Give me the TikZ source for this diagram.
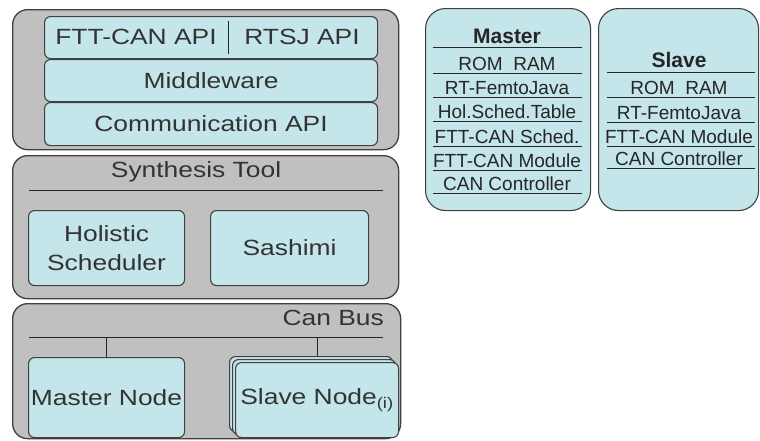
\documentclass[tikz,border=0pt]{standalone}
\usepackage{fontspec}
\setmainfont{Liberation Sans}[FakeStretch=1.2]
\newfontfamily\tablefont{Liberation Sans}
\usetikzlibrary{positioning}
\definecolor{panelgray}{RGB}{192,192,192}
\definecolor{layercyan}{RGB}{196,229,233}
\newcommand\layerfont{\fontsize{22}{29}\selectfont}
\newcommand\rowfont{\tablefont\fontsize{19}{20}\selectfont}
\tikzset{
  panel/.style={draw=black!75,line width=1.3pt,fill=panelgray,rounded corners=15pt,anchor=north west,inner sep=0pt},
  layer/.style={draw=black!75,line width=1.1pt,fill=layercyan,rounded corners=6pt,anchor=north west,inner sep=0pt,font=\layerfont,text=black!80,align=center},
  card/.style={draw=black!75,line width=1.1pt,fill=layercyan,rounded corners=20pt,anchor=north west,inner sep=0pt},
  label/.style={font=\layerfont,text=black!80,inner sep=0pt},
  rowtext/.style={anchor=base,inner sep=0pt,font=\rowfont,text=black!85},
  rule/.style={black!85,line width=1pt}
}
\begin{document}
\begin{tikzpicture}[x=1pt,y=-1pt]
\useasboundingbox (0,0) rectangle (760,440);

% application stack
\node[panel,minimum width=386pt,minimum height=140pt] (apipanel) at (12,9) {};
\node[layer,minimum width=333pt,minimum height=42pt] (apis) at (44,16) {};
\node[label] (fttapi) at (136,37) {FTT-CAN API};
\node[label] (rtsjapi) at (302,37) {RTSJ API};
\draw[rule] (228,21) -- (228,54);
\node[layer,minimum width=333pt,minimum height=42pt] (middleware) at (44,59) {Middleware};
\node[layer,minimum width=333pt,minimum height=43pt] (commapi) at (44,102) {Communication API};

% synthesis tool
\node[panel,minimum width=386pt,minimum height=143pt] (synthpanel) at (12,155) {};
\node[label] (synthlabel) at (196,172) {Synthesis Tool};
\draw[rule] (29,190) -- (383,190);
\node[layer,minimum width=156pt,minimum height=75pt] (holistic) at (28,210) {Holistic\\Scheduler};
\node[layer,minimum width=158pt,minimum height=75pt] (sashimi) at (210,210) {Sashimi};

% can bus
\node[panel,minimum width=388pt,minimum height=135pt] (buspanel) at (12,303) {};
\node[label,anchor=east] (buslabel) at (384,318) {Can Bus};
\coordinate (busleft) at (29,337);
\coordinate (busright) at (383,337);
\draw[rule] (busleft) -- (busright);
\node[layer,minimum width=156pt,minimum height=80pt] (masternode) at (28,357) {Master Node};
\node[layer,minimum width=163pt,minimum height=75pt] (slaveback) at (229,356) {};
\node[layer,minimum width=163pt,minimum height=75pt] (slavemid) at (232,359) {};
\node[layer,minimum width=163pt,minimum height=75pt] (slavenode) at (235,362) {Slave Node\textsubscript{(i)}};
\draw[rule] (masternode.north |- busleft) -- (masternode.north);
\draw[rule] (slavenode.north |- busleft) -- (slavenode.north |- slaveback.north);

% node contents
\node[card,minimum width=165pt,minimum height=202pt] (mastercard) at (425,8) {};
\node[rowtext,font=\rowfont\fontsize{21}{22}\selectfont\bfseries] (mastertitle) at (507,43) {Master};
\draw[rule] (433,47) -- (582,47);
\foreach \y/\txt [count=\i] in {73/ROM\ \ RAM,97/RT-FemtoJava,121/Hol.Sched.Table,146/FTT-CAN Sched.,170/FTT-CAN Module,193/CAN Controller}{
  \node[rowtext] (mrow\i) at (507,\y-3) {\txt};
  \draw[rule] (433,\y) -- (582,\y);
}
\node[card,minimum width=160pt,minimum height=202pt] (slavecard) at (598,8) {};
\node[rowtext,font=\rowfont\fontsize{21}{22}\selectfont\bfseries] (slavetitle) at (679,67) {Slave};
\draw[rule] (607,72) -- (755,72);
\foreach \y/\txt [count=\i] in {97/ROM\ \ RAM,122/RT-FemtoJava,146/FTT-CAN Module,168/CAN Controller}{
  \node[rowtext] (srow\i) at (679,\y-3) {\txt};
  \draw[rule] (607,\y) -- (755,\y);
}
\end{tikzpicture}
\end{document}
